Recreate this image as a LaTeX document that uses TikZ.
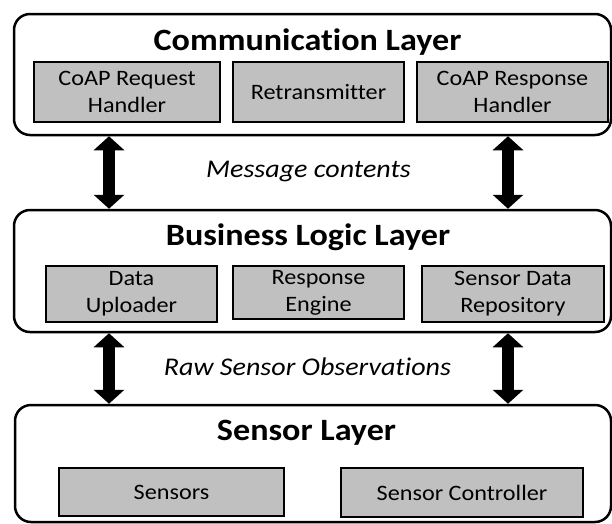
\documentclass[tikz,border=0pt]{standalone}
\usepackage{fontspec}
\setmainfont{Carlito}[FakeStretch=1.1, Ligatures=NoCommon]
\usetikzlibrary{arrows.meta}
\definecolor{boxgray}{RGB}{192,192,192}
\begin{document}
\begin{tikzpicture}[x=1pt,y=-1pt,
  layer/.style={draw, line width=2.5pt, rounded corners=16pt, inner sep=0pt},
  comp/.style={draw, line width=2.8pt, fill=boxgray, inner sep=0pt, align=center,
    font=\fontsize{22}{27}\selectfont},
  ttl/.style={anchor=base, inner sep=0pt, font=\bfseries\fontsize{31}{36}\selectfont},
  lbl/.style={anchor=base, inner sep=0pt, font=\itshape\fontsize{25.5}{30}\selectfont},
  dbl/.style={line width=12pt,
    {Triangle[width=30pt,length=14pt]}-{Triangle[width=30pt,length=14pt]}}]
\useasboundingbox (0,0) rectangle (612,523);
\begin{scope}
\clip (0,0) rectangle (612,523);
% layers
\node[layer, minimum width=597pt, minimum height=121pt] (comm) at (312.5,74.5) {};
\node[layer, minimum width=597pt, minimum height=122pt] (biz) at (312.5,271) {};
\node[layer, minimum width=596pt, minimum height=117pt] (sens) at (313,463.5) {};
\end{scope}
% titles
\node[ttl] (commt) at (307.5,50) {Communication Layer};
\node[ttl] (bizt) at (308,245) {Business Logic Layer};
\node[ttl] (senst) at (306.5,440) {Sensor Layer};
% components
\node[comp, minimum width=186pt, minimum height=60pt] (req) at (127,92) {CoAP Request\\Handler};
\node[comp, minimum width=171pt, minimum height=60pt] (ret) at (318.5,92) {Retransmitter};
\node[comp, minimum width=191pt, minimum height=60pt] (resp) at (512.5,92) {CoAP Response\\Handler};
\node[comp, minimum width=171pt, minimum height=56pt] (upl) at (131.5,294) {Data\\Uploader};
\node[comp, minimum width=171pt, minimum height=53pt] (eng) at (318.5,292.5) {Response\\Engine};
\node[comp, minimum width=182pt, minimum height=56pt] (repo) at (513,294) {Sensor Data\\Repository};
\node[comp, minimum width=225pt, minimum height=48pt] (sensors) at (171.5,492) {Sensors};
\node[comp, minimum width=242pt, minimum height=49pt] (ctrl) at (462,492.5) {Sensor Controller};
% labels
\node[lbl] (msg) at (308.5,177) {Message contents};
\node[lbl] (raw) at (307.5,375) {Raw Sensor Observations};
% arrows
\draw[dbl] (109,0 |- comm.south) -- (109,0 |- biz.north);
\draw[dbl] (508,0 |- comm.south) -- (508,0 |- biz.north);
\draw[dbl] (109,0 |- biz.south) -- (109,0 |- sens.north);
\draw[dbl] (508,0 |- biz.south) -- (508,0 |- sens.north);
\end{tikzpicture}
\end{document}
